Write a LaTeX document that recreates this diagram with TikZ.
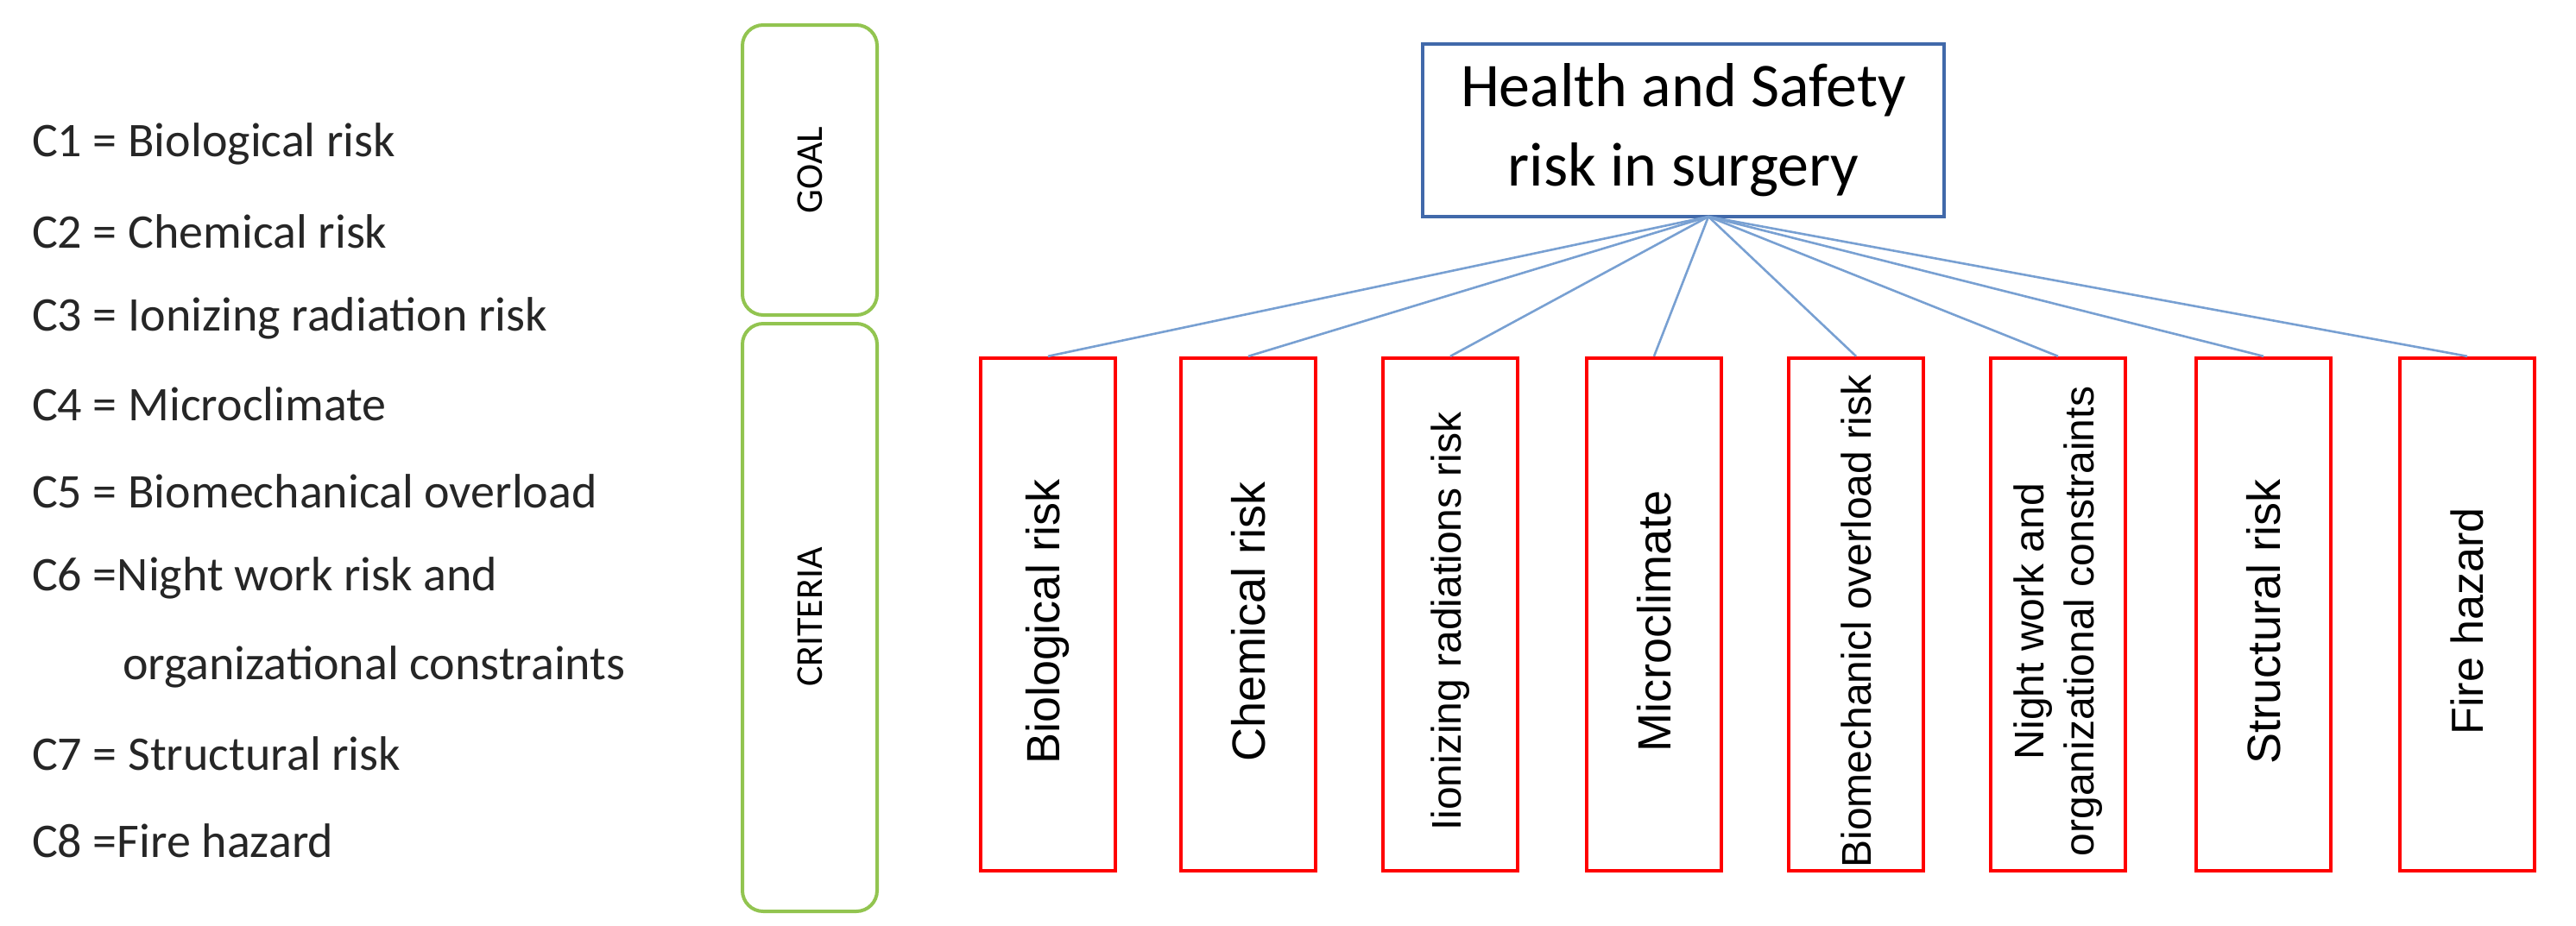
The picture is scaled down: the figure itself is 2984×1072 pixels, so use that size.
\documentclass[tikz,border=0pt]{standalone}
\usepackage{fontspec}
\setmainfont{Carlito}
\newfontfamily\arialf{Liberation Sans}
\begin{document}
\begin{tikzpicture}[x=0.5pt,y=-0.5pt,
  lvl/.style={line width=2pt, rounded corners=12pt},
  crit/.style={draw=red, line width=2.2pt, minimum width=78pt, minimum height=297pt, inner sep=0pt},
  ctext/.style={rotate=90, font=\arialf\fontsize{#1}{29}\selectfont, align=center},
  link/.style={line width=1.3pt},
  item/.style={anchor=west, font=\fontsize{28}{32}\selectfont, text=black!85}]
\useasboundingbox (0,0) rectangle (2984,1072);
\definecolor{gl}{RGB}{146,196,80}
\definecolor{bl}{RGB}{65,105,170}
\definecolor{ln}{RGB}{120,160,210}
% legend
\node[item] (l1) at (30,167) {C1 = Biological risk};
\node[item] (l2) at (30,268) {C2 = Chemical risk};
\node[item] (l3) at (30,369) {C3 = Ionizing radiation risk};
\node[item] (l4) at (30,468) {C4 = Microclimate};
\node[item] (l5) at (30,569) {C5 = Biomechanical overload};
\node[item] (l6) at (30,670) {C6 =Night work risk and};
\node[item] (l6b) at (135,773) {organizational constraints};
\node[item] (l7) at (30,873) {C7 = Structural risk};
\node[item] (l8) at (30,974) {C8 =Fire hazard};
% level boxes
\draw[lvl, draw=gl] (860,29) rectangle (1016,365);
\node[rotate=90, font=\fontsize{22}{26}\selectfont] (goal) at (938,197) {GOAL};
\draw[lvl, draw=gl] (860,375) rectangle (1016,1056);
\node[rotate=90, font=\fontsize{22}{26}\selectfont] (criteria) at (938,715) {CRITERIA};
% goal
\node[draw=bl, line width=2pt, minimum width=302pt, minimum height=100pt, align=center,
  font=\fontsize{36}{46}\selectfont] (top) at (1950,151) {Health and Safety\\risk in surgery};
\coordinate (hub) at (1979,251);
% criteria
\foreach \n/\x/\s/\t in {1/1214/27/{Biological risk},2/1446/27/{Chemical risk},3/1680/24/{Iionizing radiations risk},4/1916/27/{Microclimate},5/2150/24/{Biomechanicl overload risk},6/2384/24/{Night work and\\organizational constraints},7/2622/27/{Structural risk},8/2858/26/{Fire hazard}}{
  \node[crit] (c\n) at (\x,712) {};
  \node[ctext=\s] (t\n) at (\x,720) {\t};
  \draw[link, draw=ln] (hub) -- (c\n.north);
}
\end{tikzpicture}
\end{document}
